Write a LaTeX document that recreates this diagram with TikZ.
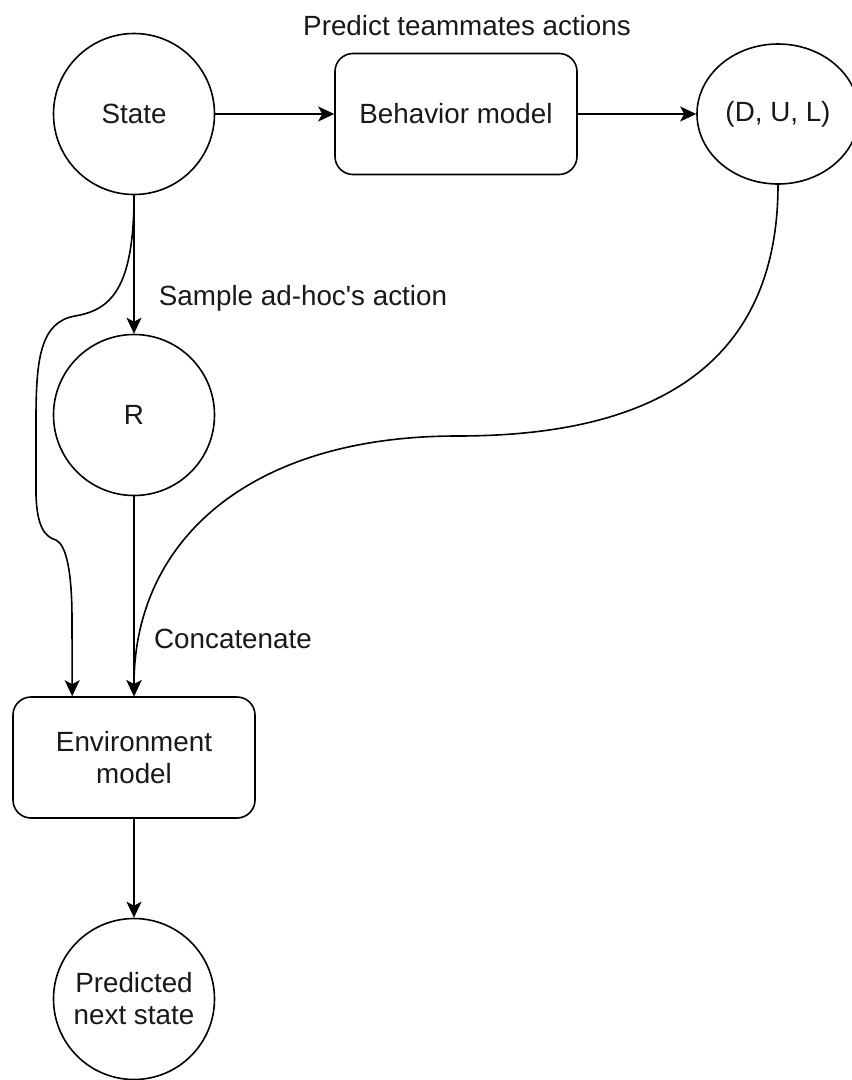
\documentclass[tikz,border=0pt]{standalone}
\usepackage{fontspec}
\setmainfont{Liberation Sans}[Ligatures=TeXOff]
\usetikzlibrary{arrows.meta,shapes.geometric}
\begin{document}
\begin{tikzpicture}[x=1pt,y=-1pt,
  every node/.style={font=\fontsize{27.8}{32}\selectfont, text=black!90},
  line/.style={draw=black, line width=1.6pt},
  arr/.style={line, -{Stealth[length=16pt,width=15pt,inset=4pt]}},
  circ/.style={circle, draw, line width=1.6pt, minimum size=161pt, inner sep=0pt, align=center},
  rbox/.style={rectangle, rounded corners=18pt, draw, line width=1.6pt,
               minimum width=242pt, minimum height=121pt, align=center},
  oval/.style={ellipse, draw, line width=1.6pt, minimum width=162pt,
               minimum height=140pt, inner sep=0pt},
  lbl/.style={anchor=base, inner sep=0pt}]
  % canvas
  \fill[white] (0,0) rectangle (852,1080);
  \useasboundingbox (0,0) rectangle (852,1080);

  % nodes
  \node[circ] (S) at (134,114) {State};
  \node[rbox] (B) at (456,114) {Behavior model};
  \node[oval] (D) at (778,114) {(D, U, L)};
  \node[circ] (R) at (134,415) {R};
  \node[rbox] (E) at (134,757.5) {Environment\\model};
  \node[circ] (P) at (134,999) {Predicted\\next state};

  % labels
  \node[lbl] (lpred) at (467,35) {Predict teammates actions};
  \node[lbl] (lsamp) at (303,305) {Sample ad-hoc's action};
  \node[lbl] (lcat)  at (233,648) {Concatenate};

  % straight connectors
  \draw[arr] (S) -- (B);
  \draw[arr] (B) -- (D);
  \draw[arr] (S) -- (R);
  \draw[arr] (R) -- (E);
  \draw[arr] (E) -- (P);

  % state passed straight on to the environment model
  \draw[arr] (S.south)
     .. controls (134,290) and (110,310) .. (75,316)
     .. controls (40,322) and (36,360) .. (36,420)
     -- (36,495)
     .. controls (37,527) and (45,537) .. (56,540)
     .. controls (66,545) and (72,570) .. (72,620)
     -- ([xshift=60pt]E.north west);

  % predicted teammate actions into the environment model
  \draw[arr] (D.south)
     .. controls (778,400) and (600,436) .. (457,436)
     .. controls (250,436) and (134,540) .. (E.north);
\end{tikzpicture}
\end{document}
